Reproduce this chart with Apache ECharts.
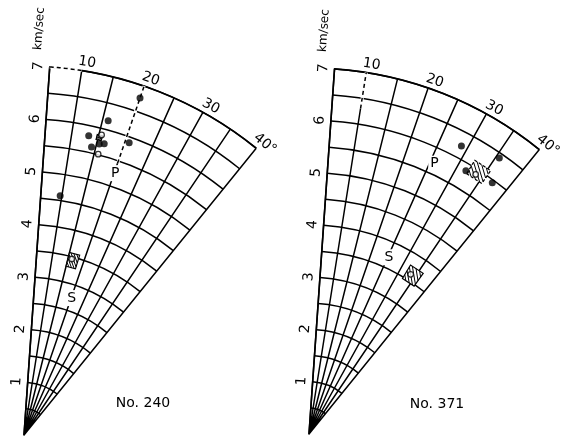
<!DOCTYPE html>
<html>
<head>
<meta charset="utf-8">
<script src="https://cdn.jsdelivr.net/npm/echarts@6/dist/echarts.min.js"></script>
<style>
  html, body { margin: 0; padding: 0; background: #ffffff; }
  #chart { width: 565px; height: 437px; }
</style>
</head>
<body>
<div id="chart"></div>
<script>
// Velocity (km/sec) along the radius, incidence angle (degrees) around the fan
const velocityRange = [0, 7];
const velocityStep = 0.5;
const velocityLabels = [1, 2, 3, 4, 5, 6, 7];
const angleRange = [5, 40];
const angleStep = 5;
const angleLabels = [10, 20, 30, 40];

// Specimen No. 240: [velocity, angle]
const solid240 = [[6.76, 20.0], [6.17, 16.0], [5.81, 13.2], [5.70, 15.5], [5.73, 16.4],
                  [5.61, 14.2], [5.89, 20.8], [4.59, 9.6]];
const open240 = [[5.88, 15.5], [5.51, 15.8], [3.46, 16.2]];
// hatched ranges: [vMin, vMax, angleMin, angleMax, dashedOutline]
const ranges240 = [[3.30, 3.57, 15.0, 18.2, 0], [5.77, 5.87, 14.7, 15.7, 0]];
const waves240 = [['P', 5.26, 20.2], ['S', 2.75, 20.2]];
// grid stretches drawn broken: [vFrom, vTo, angleFrom, angleTo]
const broken240 = [[7, 7, 5, 10], [5.45, 7, 20, 20]];

// Specimen No. 371
const solid371 = [[6.23, 28.9], [6.41, 35.6], [5.86, 31.8], [5.95, 37.1]];
const open371 = [[5.90, 33.7], [3.62, 33.5]];
const ranges371 = [[5.82, 6.12, 32.2, 35.6, 1], [3.47, 3.77, 32.0, 36.4, 0]];
const waves371 = [['P', 5.70, 25.9], ['S', 3.71, 25.35]];
const broken371 = [[6.3, 7, 10, 10]];

const titles = ['No. 240', 'No. 371'];

const INK = '#000000';
const FONT = 'DejaVu Sans';
const TILT = 1;            // fan is turned slightly anticlockwise on the page
const LABEL_R = 7.17;      // radius at which the angle numbers sit
const fanCenters = [[24, 435], [309, 434]];
const fanRadii = [369, 366];

const chart = echarts.init(document.getElementById('chart'), null, { renderer: 'canvas' });

function polarAxes(i) {
  return {
    angle: {
      polarIndex: i, type: 'value', min: angleRange[0], max: angleRange[1], interval: angleStep,
      startAngle: 90 - angleRange[0] + TILT, endAngle: 90 - angleRange[1] + TILT, clockwise: true,
      axisLine: { show: true, lineStyle: { color: INK, width: 1.7 } },
      axisTick: { show: false }, axisLabel: { show: false },
      splitLine: { show: true, lineStyle: { color: INK, width: 1.5 } }
    },
    radius: {
      polarIndex: i, type: 'value', min: velocityRange[0], max: velocityRange[1], interval: velocityStep,
      axisLine: { show: true, lineStyle: { color: INK, width: 1.6 } },
      axisTick: { show: false },
      axisLabel: {
        formatter: v => velocityLabels.includes(v) ? String(v) : '',
        rotate: 90 - angleRange[0] + TILT, margin: 4, fontSize: 14, color: INK, fontFamily: FONT
      },
      splitLine: { show: true, lineStyle: { color: INK, width: 1.5 } },
      name: 'km/sec', nameLocation: 'end', nameGap: 16, nameRotate: 90 - angleRange[0] + TILT,
      nameTextStyle: { fontSize: 12, color: INK, fontFamily: FONT,
                       verticalAlign: 'bottom', padding: [0, 0, 7, 0] }
    }
  };
}

function rangeSeries(ranges, polarIndex) {
  return {
    type: 'custom', coordinateSystem: 'polar', polarIndex, silent: true, z: 4,
    data: ranges,
    renderItem(params, api) {
      const v0 = api.value(0), v1 = api.value(1), a0 = api.value(2), a1 = api.value(3);
      const dashed = api.value(4) === 1;
      // u runs across the angle, w runs along the velocity
      const pt = (u, w) => api.coord([v0 + (v1 - v0) * w, a0 + (a1 - a0) * u]);
      const children = [{
        type: 'polygon',
        shape: { points: [pt(0, 0), pt(1, 0), pt(1, 1), pt(0, 1)] },
        style: { fill: '#ffffff', stroke: INK, lineWidth: 1.2, lineDash: dashed ? [3, 2] : null }
      }];
      const n = 7;
      for (let k = 1; k < n; k++) {
        const c = 2 * k / n;
        const p = c <= 1 ? [pt(0, c), pt(c, 0)] : [pt(c - 1, 1), pt(1, c - 1)];
        children.push({ type: 'line', shape: { x1: p[0][0], y1: p[0][1], x2: p[1][0], y2: p[1][1] },
                        style: { stroke: INK, lineWidth: 1 } });
      }
      return { type: 'group', children };
    }
  };
}

// Grid stretches that are drawn as broken lines: white under-stroke, dashed ink on top
function brokenSeries(segments, polarIndex) {
  return {
    type: 'custom', coordinateSystem: 'polar', polarIndex, silent: true, z: 3,
    data: segments,
    renderItem(params, api) {
      const v0 = api.value(0), v1 = api.value(1), a0 = api.value(2), a1 = api.value(3);
      const pts = [];
      for (let k = 0; k <= 20; k++) {
        const t = k / 20;
        pts.push(api.coord([v0 + (v1 - v0) * t, a0 + (a1 - a0) * t]));
      }
      return { type: 'group', children: [
        { type: 'polyline', shape: { points: pts }, style: { stroke: '#ffffff', lineWidth: 3, fill: null } },
        { type: 'polyline', shape: { points: pts }, style: { stroke: INK, lineWidth: 1.5, fill: null, lineDash: [4, 3] } }
      ] };
    }
  };
}

function pointSeries(solid, open, polarIndex) {
  return [
    { type: 'scatter', coordinateSystem: 'polar', polarIndex, z: 5, symbol: 'circle', symbolSize: 7,
      itemStyle: { color: INK }, data: solid },
    { type: 'scatter', coordinateSystem: 'polar', polarIndex, z: 6, symbol: 'circle', symbolSize: 5.5,
      itemStyle: { color: '#ffffff', borderColor: INK, borderWidth: 1.3 }, data: open }
  ];
}

const ax0 = polarAxes(0), ax1 = polarAxes(1);

chart.setOption({
  backgroundColor: '#ffffff',
  animation: false,
  polar: [
    { center: fanCenters[0], radius: fanRadii[0] },
    { center: fanCenters[1], radius: fanRadii[1] }
  ],
  angleAxis: [ax0.angle, ax1.angle],
  radiusAxis: [ax0.radius, ax1.radius],
  series: [
    brokenSeries(broken240, 0),
    rangeSeries(ranges240, 0),
    ...pointSeries(solid240, open240, 0),
    brokenSeries(broken371, 1),
    rangeSeries(ranges371, 1),
    ...pointSeries(solid371, open371, 1)
  ]
});

// Text placed through the polar coordinate systems: angle numbers, wave letters, titles
function textAt(polarIndex, r, a, text, rotDeg, size, boxed) {
  const p = chart.convertToPixel({ polarIndex }, [r, a]);
  const style = { text, fill: INK, font: size + 'px "' + FONT + '"',
                  textAlign: 'center', textVerticalAlign: 'middle' };
  if (boxed) { style.backgroundColor = '#ffffff'; style.padding = [1, 2]; }
  return { type: 'text', x: p[0], y: p[1], rotation: rotDeg * Math.PI / 180, z: 10, style };
}

const graphics = [];
[[waves240, 0], [waves371, 1]].forEach(([waves, i]) => {
  angleLabels.forEach(a => {
    const text = a === angleRange[1] ? a + '°' : String(a);
    graphics.push(textAt(i, LABEL_R, a + 0.6, text, -(a - TILT), 14, false));
  });
  waves.forEach(w => graphics.push(textAt(i, w[1], w[2], w[0], 0, 14, true)));
});
graphics.push({ type: 'text', x: 143, y: 403, style: { text: titles[0], fill: INK,
  font: '14px "' + FONT + '"', textAlign: 'center', textVerticalAlign: 'middle' } });
graphics.push({ type: 'text', x: 437, y: 404, style: { text: titles[1], fill: INK,
  font: '14px "' + FONT + '"', textAlign: 'center', textVerticalAlign: 'middle' } });

chart.setOption({ graphic: graphics });
</script>
</body>
</html>
